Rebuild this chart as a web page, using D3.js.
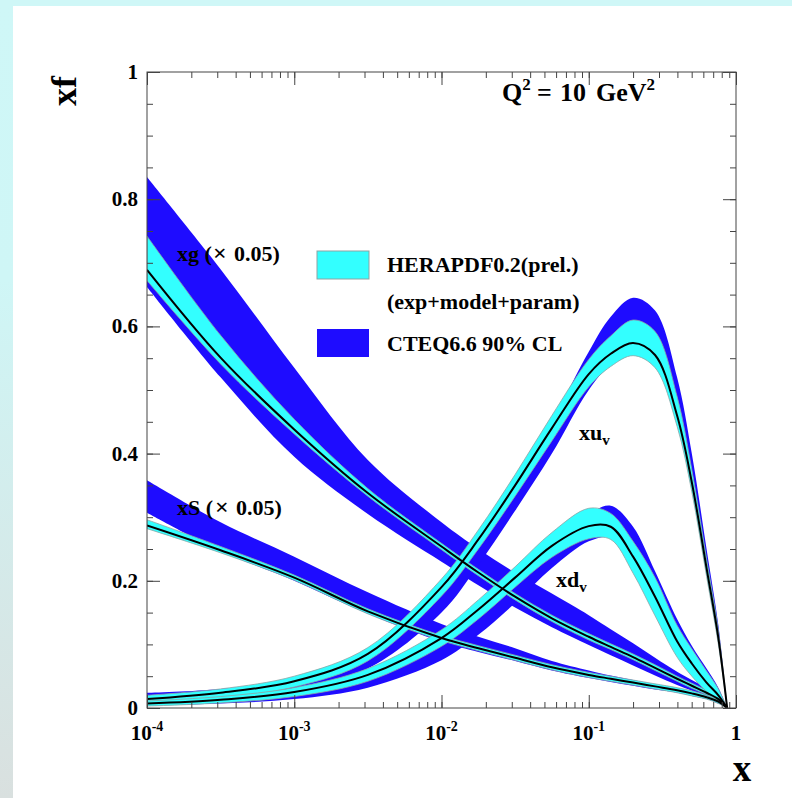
<!DOCTYPE html>
<html><head><meta charset="utf-8">
<script src="https://cdn.jsdelivr.net/npm/d3@7"></script>
<style>
html,body{margin:0;padding:0;background:#fff;}
svg{display:block;}
text{font-family:"Liberation Serif","Times New Roman",serif;font-weight:bold;fill:#000;}
</style></head><body>
<svg id="chart" width="792" height="798"></svg>
<script>
// Momentum-fraction grid shared by all distributions
const xGrid = [0.0001, 0.000316, 0.001, 0.00316, 0.01, 0.0178, 0.0316, 0.0562, 0.1, 0.141, 0.2, 0.282, 0.398, 0.501, 0.631, 0.759, 0.871];

// u valence
const xuvCentral = [0.014, 0.024, 0.042, 0.085, 0.190, 0.265, 0.350, 0.440, 0.525, 0.557, 0.574, 0.555, 0.460, 0.355, 0.220, 0.110, 0];
const xuvHeraLo  = [0.008, 0.016, 0.033, 0.074, 0.176, 0.250, 0.333, 0.420, 0.505, 0.537, 0.554, 0.535, 0.443, 0.340, 0.207, 0.100, 0];
const xuvHeraHi  = [0.020, 0.030, 0.050, 0.095, 0.203, 0.280, 0.367, 0.460, 0.548, 0.585, 0.610, 0.592, 0.490, 0.375, 0.235, 0.122, 0];
const xuvCteqLo  = [0.012, 0.018, 0.030, 0.062, 0.150, 0.225, 0.310, 0.400, 0.500, 0.540, 0.560, 0.545, 0.460, 0.350, 0.215, 0.105, 0];
const xuvCteqHi  = [0.024, 0.030, 0.046, 0.085, 0.185, 0.262, 0.352, 0.450, 0.560, 0.615, 0.645, 0.625, 0.520, 0.400, 0.250, 0.130, 0];

// d valence
const xdvCentral = [0.007, 0.013, 0.025, 0.052, 0.110, 0.155, 0.205, 0.255, 0.286, 0.285, 0.238, 0.175, 0.105, 0.070, 0.040, 0.020, 0];
const xdvHeraLo  = [0.003, 0.008, 0.018, 0.042, 0.097, 0.140, 0.190, 0.237, 0.266, 0.265, 0.212, 0.145, 0.080, 0.050, 0.026, 0.012, 0];
const xdvHeraHi  = [0.011, 0.018, 0.032, 0.062, 0.123, 0.170, 0.222, 0.276, 0.314, 0.306, 0.262, 0.205, 0.130, 0.093, 0.058, 0.030, 0];
const xdvCteqLo  = [0.004, 0.007, 0.014, 0.032, 0.075, 0.115, 0.165, 0.220, 0.262, 0.268, 0.225, 0.160, 0.095, 0.058, 0.030, 0.014, 0];
const xdvCteqHi  = [0.012, 0.017, 0.028, 0.052, 0.105, 0.150, 0.205, 0.262, 0.305, 0.318, 0.285, 0.215, 0.140, 0.098, 0.062, 0.032, 0];

// gluon, scaled by 0.05
const xgCentral = [0.689, 0.551, 0.438, 0.338, 0.254, 0.213, 0.175, 0.141, 0.112, 0.096, 0.080, 0.063, 0.046, 0.035, 0.024, 0.014, 0];
const xgHeraLo  = [0.672, 0.541, 0.431, 0.333, 0.249, 0.208, 0.170, 0.136, 0.107, 0.092, 0.076, 0.059, 0.042, 0.031, 0.021, 0.011, 0];
const xgHeraHi  = [0.742, 0.586, 0.454, 0.345, 0.259, 0.218, 0.180, 0.146, 0.117, 0.101, 0.085, 0.068, 0.050, 0.039, 0.028, 0.017, 0];
const xgCteqLo  = [0.662, 0.520, 0.395, 0.305, 0.230, 0.193, 0.158, 0.127, 0.099, 0.083, 0.067, 0.051, 0.036, 0.027, 0.018, 0.009, 0];
const xgCteqHi  = [0.835, 0.690, 0.535, 0.390, 0.292, 0.250, 0.213, 0.180, 0.146, 0.124, 0.102, 0.079, 0.057, 0.044, 0.031, 0.018, 0];

// sea, scaled by 0.05
const xsCentral = [0.287, 0.248, 0.205, 0.152, 0.110, 0.094, 0.079, 0.064, 0.052, 0.046, 0.040, 0.034, 0.028, 0.023, 0.017, 0.010, 0];
const xsHeraLo  = [0.282, 0.244, 0.201, 0.148, 0.106, 0.090, 0.075, 0.060, 0.048, 0.042, 0.036, 0.030, 0.024, 0.019, 0.014, 0.007, 0];
const xsHeraHi  = [0.296, 0.254, 0.209, 0.156, 0.114, 0.098, 0.083, 0.068, 0.056, 0.050, 0.044, 0.038, 0.032, 0.027, 0.020, 0.012, 0];
const xsCteqLo  = [0.307, 0.247, 0.200, 0.148, 0.104, 0.088, 0.074, 0.059, 0.047, 0.041, 0.035, 0.029, 0.024, 0.019, 0.014, 0.007, 0];
const xsCteqHi  = [0.358, 0.292, 0.238, 0.182, 0.132, 0.112, 0.094, 0.074, 0.059, 0.051, 0.044, 0.037, 0.031, 0.026, 0.020, 0.012, 0];

// Axis ticks
const yMajorTicks = [0, 0.2, 0.4, 0.6, 0.8, 1];
const yTickLabels = ["0", "0.2", "0.4", "0.6", "0.8", "1"];
const xDecadeTicks = [0.0001, 0.001, 0.01, 0.1, 1];
const xDecadeExponents = ["-4", "-3", "-2", "-1", null];

const svg = d3.select("#chart");
const W = 792, H = 798;

// page backdrop strips
const defs = svg.append("defs");
const grad = defs.append("linearGradient").attr("id", "sideFade")
  .attr("x1", 0).attr("y1", 0).attr("x2", 0).attr("y2", 1);
grad.append("stop").attr("offset", "0%").attr("stop-color", "#cff7f7");
grad.append("stop").attr("offset", "35%").attr("stop-color", "#cff6f6");
grad.append("stop").attr("offset", "100%").attr("stop-color", "#d9e0df");
svg.append("rect").attr("x", 0).attr("y", 0).attr("width", W).attr("height", H).attr("fill", "#fff");
svg.append("rect").attr("x", 0).attr("y", 0).attr("width", 13).attr("height", H).attr("fill", "url(#sideFade)");
svg.append("rect").attr("x", 0).attr("y", 0).attr("width", W).attr("height", 6).attr("fill", "#cff7f7");

const pL = 147, pR = 736, pT = 72, pB = 708;
const x = d3.scaleLog().domain([1e-4, 1]).range([pL, pR]);
const y = d3.scaleLinear().domain([0, 1]).range([pB, pT]);

defs.append("clipPath").attr("id", "plotClip").append("rect")
  .attr("x", pL).attr("y", pT).attr("width", pR - pL).attr("height", pB - pT);

const plot = svg.append("g").attr("clip-path", "url(#plotClip)");
const curve = d3.curveCatmullRom.alpha(0.5);

function band(lo, hi) {
  return d3.area().curve(curve)
    .x((d, i) => x(xGrid[i])).y0((d, i) => y(lo[i])).y1((d, i) => y(hi[i]))(xGrid);
}
function line(v) {
  return d3.line().curve(curve).x((d, i) => x(xGrid[i])).y((d, i) => y(v[i]))(xGrid);
}

const CYAN = "#33ffff", BLUE = "#1e0cff";

const cteqBands = [[xgCteqLo, xgCteqHi], [xsCteqLo, xsCteqHi], [xuvCteqLo, xuvCteqHi], [xdvCteqLo, xdvCteqHi]];
const heraBands = [[xgHeraLo, xgHeraHi], [xsHeraLo, xsHeraHi], [xuvHeraLo, xuvHeraHi], [xdvHeraLo, xdvHeraHi]];
const centrals = [xgCentral, xsCentral, xuvCentral, xdvCentral];

plot.selectAll("path.cteq").data(cteqBands).join("path").attr("class", "cteq")
  .attr("d", d => band(d[0], d[1])).attr("fill", BLUE).attr("stroke", "none");
plot.selectAll("path.hera").data(heraBands).join("path").attr("class", "hera")
  .attr("d", d => band(d[0], d[1])).attr("fill", CYAN).attr("stroke", "#8fa3a3").attr("stroke-width", 0.8);
plot.selectAll("path.central").data(centrals).join("path").attr("class", "central")
  .attr("d", d => line(d)).attr("fill", "none").attr("stroke", "#000").attr("stroke-width", 2);

// frame and inward ticks
const frame = svg.append("g");
function ticksOnly(g) { g.select(".domain").remove(); g.selectAll("text").remove(); g.selectAll("line").attr("stroke", "#444"); }
const xMinor = x.ticks();
const yMinor = d3.range(0, 1.0001, 0.05);
frame.append("g").attr("transform", `translate(0,${pB})`).call(d3.axisBottom(x).tickValues(xMinor).tickSize(-6)).call(ticksOnly);
frame.append("g").attr("transform", `translate(0,${pB})`).call(d3.axisBottom(x).tickValues(xDecadeTicks).tickSize(-13)).call(ticksOnly);
frame.append("g").attr("transform", `translate(0,${pT})`).call(d3.axisTop(x).tickValues(xMinor).tickSize(-6)).call(ticksOnly);
frame.append("g").attr("transform", `translate(0,${pT})`).call(d3.axisTop(x).tickValues(xDecadeTicks).tickSize(-13)).call(ticksOnly);
frame.append("g").attr("transform", `translate(${pL},0)`).call(d3.axisLeft(y).tickValues(yMinor).tickSize(-6)).call(ticksOnly);
frame.append("g").attr("transform", `translate(${pL},0)`).call(d3.axisLeft(y).tickValues(yMajorTicks).tickSize(-13)).call(ticksOnly);
frame.append("g").attr("transform", `translate(${pR},0)`).call(d3.axisRight(y).tickValues(yMinor).tickSize(-6)).call(ticksOnly);
frame.append("g").attr("transform", `translate(${pR},0)`).call(d3.axisRight(y).tickValues(yMajorTicks).tickSize(-13)).call(ticksOnly);
frame.append("rect").attr("x", pL).attr("y", pT).attr("width", pR - pL).attr("height", pB - pT)
  .attr("fill", "none").attr("stroke", "#444").attr("stroke-width", 1);

// tick labels
svg.selectAll("text.ylab").data(yMajorTicks).join("text").attr("class", "ylab")
  .attr("x", 138).attr("y", d => y(d) + 7).attr("text-anchor", "end").attr("font-size", 21)
  .text((d, i) => yTickLabels[i]);
const xl = svg.selectAll("text.xlab").data(xDecadeTicks).join("text").attr("class", "xlab")
  .attr("x", d => x(d)).attr("y", 740).attr("text-anchor", "middle").attr("font-size", 21);
xl.each(function (d, i) {
  const t = d3.select(this);
  if (xDecadeExponents[i] === null) { t.text("1"); return; }
  t.append("tspan").text("10");
  t.append("tspan").attr("font-size", 14).attr("dy", -9).text(xDecadeExponents[i]);
});

// axis titles
svg.append("text").attr("x", 742).attr("y", 781).attr("text-anchor", "middle").attr("font-size", 37).text("x");
svg.append("text").attr("transform", "translate(76,91) rotate(-90)").attr("text-anchor", "middle").attr("font-size", 36).text("xf");

// scale annotation
const q = svg.append("text").attr("y", 101).attr("font-size", 26);
q.append("tspan").attr("x", 502).text("Q");
q.append("tspan").attr("font-size", 17).attr("dy", -11).text("2");
q.append("tspan").attr("x", 537).attr("dy", 11).text("=");
q.append("tspan").attr("x", 560).text("10");
q.append("tspan").attr("x", 596).text("GeV");
q.append("tspan").attr("font-size", 17).attr("dy", -11).text("2");

// curve labels
function scaledLabel(name, x0, yb, xTimes, xNum) {
  const t = svg.append("text").attr("y", yb).attr("font-size", 22);
  t.append("tspan").attr("x", x0).text(name + " (");
  t.append("tspan").attr("x", xTimes).attr("font-size", 24).text("\u00d7");
  t.append("tspan").attr("x", xNum).text("0.05)");
}
scaledLabel("xg", 177, 261, 213, 234);
scaledLabel("xS", 177, 515, 215, 236);
const lu = svg.append("text").attr("x", 579).attr("y", 440).attr("font-size", 22);
lu.append("tspan").text("xu"); lu.append("tspan").attr("font-size", 15).attr("dy", 5).text("v");
const ld = svg.append("text").attr("x", 556).attr("y", 587).attr("font-size", 22);
ld.append("tspan").text("xd"); ld.append("tspan").attr("font-size", 15).attr("dy", 5).text("v");

// legend
const legendSwatches = [CYAN, BLUE];
const legendLines = ["HERAPDF0.2(prel.)", "(exp+model+param)", "CTEQ6.6 90% CL"];
svg.append("rect").attr("x", 317).attr("y", 251).attr("width", 52).attr("height", 28)
  .attr("fill", legendSwatches[0]).attr("stroke", "#8fa3a3").attr("stroke-width", 1);
svg.append("rect").attr("x", 317).attr("y", 329).attr("width", 52).attr("height", 28)
  .attr("fill", legendSwatches[1]);
svg.selectAll("text.leg").data(legendLines).join("text").attr("class", "leg")
  .attr("x", 387).attr("y", (d, i) => [272, 309, 351][i]).attr("font-size", 22).text(d => d);
</script></body></html>
